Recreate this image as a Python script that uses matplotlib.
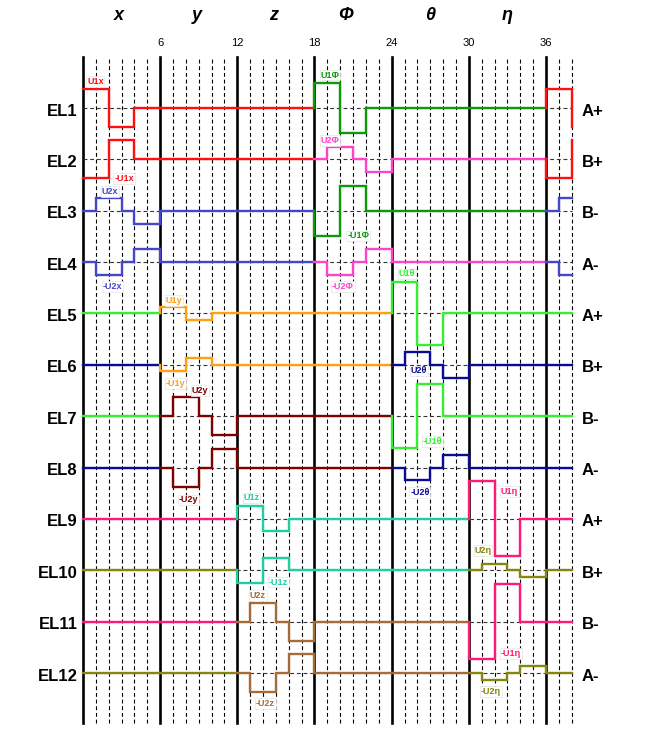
import numpy as np
import matplotlib.pyplot as plt

plt.rcParams['font.family'] = ['Liberation Sans', 'DejaVu Sans']

# --- data ---
sections = ['x', 'y', 'z', 'Φ', 'θ', 'η']
electrodes = ['EL%d' % i for i in range(1, 13)]
phases = ['A+', 'B+', 'B-', 'A-'] * 3
tick_steps = [6, 12, 18, 24, 30, 36]
n_steps = 38

# sign of each signal over the 6 steps of its section
u1_steps = [1, 1, -1, -1, 0, 0]
u2_steps = [0, 1, 1, 0, -1, -1]

# amplitudes (in row spacings) for each section
amp_u1 = [0.37, 0.13, 0.245, 0.49, 0.62, 0.73]
amp_u2 = [0.25, 0.37, 0.37, 0.25, 0.25, 0.13]

# which signal drives each electrode: (section index, signal, sign)
drive = [
    [(0, 'U1', 1), (3, 'U1', 1)],
    [(0, 'U1', -1), (3, 'U2', 1)],
    [(0, 'U2', 1), (3, 'U1', -1)],
    [(0, 'U2', -1), (3, 'U2', -1)],
    [(1, 'U1', 1), (4, 'U1', 1)],
    [(1, 'U1', -1), (4, 'U2', 1)],
    [(1, 'U2', 1), (4, 'U1', -1)],
    [(1, 'U2', -1), (4, 'U2', -1)],
    [(2, 'U1', 1), (5, 'U1', 1)],
    [(2, 'U1', -1), (5, 'U2', 1)],
    [(2, 'U2', 1), (5, 'U1', -1)],
    [(2, 'U2', -1), (5, 'U2', -1)],
]

colors = {
    (0, 'U1'): '#ff1010', (0, 'U2'): '#4646cc',
    (1, 'U1'): '#ffa010', (1, 'U2'): '#800000',
    (2, 'U1'): '#1ecf9f', (2, 'U2'): '#a56c38',
    (3, 'U1'): '#0a9a0a', (3, 'U2'): '#ff44cc',
    (4, 'U1'): '#33f033', (4, 'U2'): '#0a0a96',
    (5, 'U1'): '#ff1a75', (5, 'U2'): '#858510',
}

# signal labels: text, row, step, offset from row (row spacings)
labels = [
    ('U1x', 0, 0.96, 0.51), ('-U1x', 1, 3.19, -0.37),
    ('U2x', 2, 2.1, 0.37), ('-U2x', 3, 2.28, -0.48),
    ('U1y', 4, 7.1, 0.25), ('-U1y', 5, 7.2, -0.36),
    ('U2y', 6, 9.1, 0.50), ('-U2y', 7, 8.2, -0.63),
    ('U1z', 8, 13.1, 0.41), ('-U1z', 9, 15.2, -0.23),
    ('U2z', 10, 13.6, 0.51), ('-U2z', 11, 14.2, -0.59),
    ('U1Φ', 0, 19.2, 0.64), ('-U1Φ', 2, 21.4, -0.49),
    ('U2Φ', 1, 19.2, 0.37), ('-U2Φ', 3, 20.2, -0.48),
    ('U1θ', 4, 25.2, 0.77), ('-U1θ', 6, 27.2, -0.49),
    ('U2θ', 5, 26.1, -0.12), ('-U2θ', 7, 26.2, -0.49),
    ('U1η', 8, 33.15, 0.53), ('-U1η', 10, 33.25, -0.62),
    ('U2η', 9, 31.1, 0.39), ('-U2η', 11, 31.7, -0.36),
]
label_sec = {'x': 0, 'y': 1, 'z': 2, 'Φ': 3, 'θ': 4, 'η': 5}
title_steps = [2.8, 8.85, 14.8, 20.4, 27.0, 33.0]


def waveform(drv):
    v = np.zeros(n_steps + 1)
    sec_color = [None] * 7
    for sec, sig, sign in drv:
        pat = u1_steps if sig == 'U1' else u2_steps
        amp = amp_u1[sec] if sig == 'U1' else amp_u2[sec]
        for rep in (0, 36):
            for k in range(6):
                i = rep + sec * 6 + k
                if i <= n_steps:
                    v[i] = sign * amp * pat[k]
        sec_color[sec] = colors[(sec, sig)]
    sec_color[6] = sec_color[0]
    # sections with no signal keep the colour of the last active one
    last = [c for c in sec_color if c is not None][-1]
    for s in range(7):
        if sec_color[s] is None:
            sec_color[s] = last
        last = sec_color[s]
    return v, sec_color


fig = plt.figure(figsize=(6.66, 7.36), dpi=100)
ax = fig.add_axes([0, 0, 1, 1])
ax.set_xlim(-83 / 12.86, (666 - 83) / 12.86)
ax.set_ylim(-(736 - 108) / 51.36, 108 / 51.36)
ax.axis('off')

# grid
for s in range(n_steps + 1):
    if s % 6 == 0:
        ax.plot([s, s], [-11.97, 0.99], color='black', lw=1.9, zorder=1)
    else:
        ax.plot([s, s], [-11.97, 0.99], color='black', lw=0.8,
                dashes=(3.5, 2.5), zorder=1)

for r in range(12):
    ax.plot([0, n_steps], [-r, -r], color='#333333', lw=0.8,
            dashes=(3.5, 2.5), zorder=2)

# waveforms
for r, drv in enumerate(drive):
    v, sec_color = waveform(drv)
    y0 = -r
    for s in range(7):
        a = s * 6
        b = min(a + 6, n_steps)
        xs, ys = [], []
        if a > 0:
            xs.append(a)
            ys.append(v[a - 1])
        for i in range(a, b):
            xs += [i, i + 1]
            ys += [v[i], v[i]]
        if b == n_steps:
            xs.append(n_steps)
            ys.append(v[n_steps])
        ax.plot(xs, np.array(ys) + y0, color=sec_color[s], lw=1.7,
                solid_joinstyle='miter', zorder=3)

    ax.text(-0.39, y0 - 0.06, electrodes[r], ha='right', va='center',
            fontsize=12, fontweight='bold')
    ax.text(38.8, y0 - 0.06, phases[r], ha='left', va='center',
            fontsize=12, fontweight='bold')

for txt, r, st, dy in labels:
    sec = label_sec[txt[-1]]
    sig = 'U1' if 'U1' in txt else 'U2'
    ax.text(st, -r + dy, txt, ha='center', va='center', fontsize=6.5,
            fontweight='bold', color=colors[(sec, sig)], zorder=4,
            bbox=dict(fc='white', ec='#e4e4e4', lw=0.5, pad=0.6))

for name, st in zip(sections, title_steps):
    ax.text(st, 1.81, name, ha='center', va='center', fontsize=13,
            fontweight='bold', fontstyle='italic')

for t in tick_steps:
    ax.text(t, 1.27, str(t), ha='center', va='center', fontsize=8)

fig.savefig('out.png', dpi=100)
